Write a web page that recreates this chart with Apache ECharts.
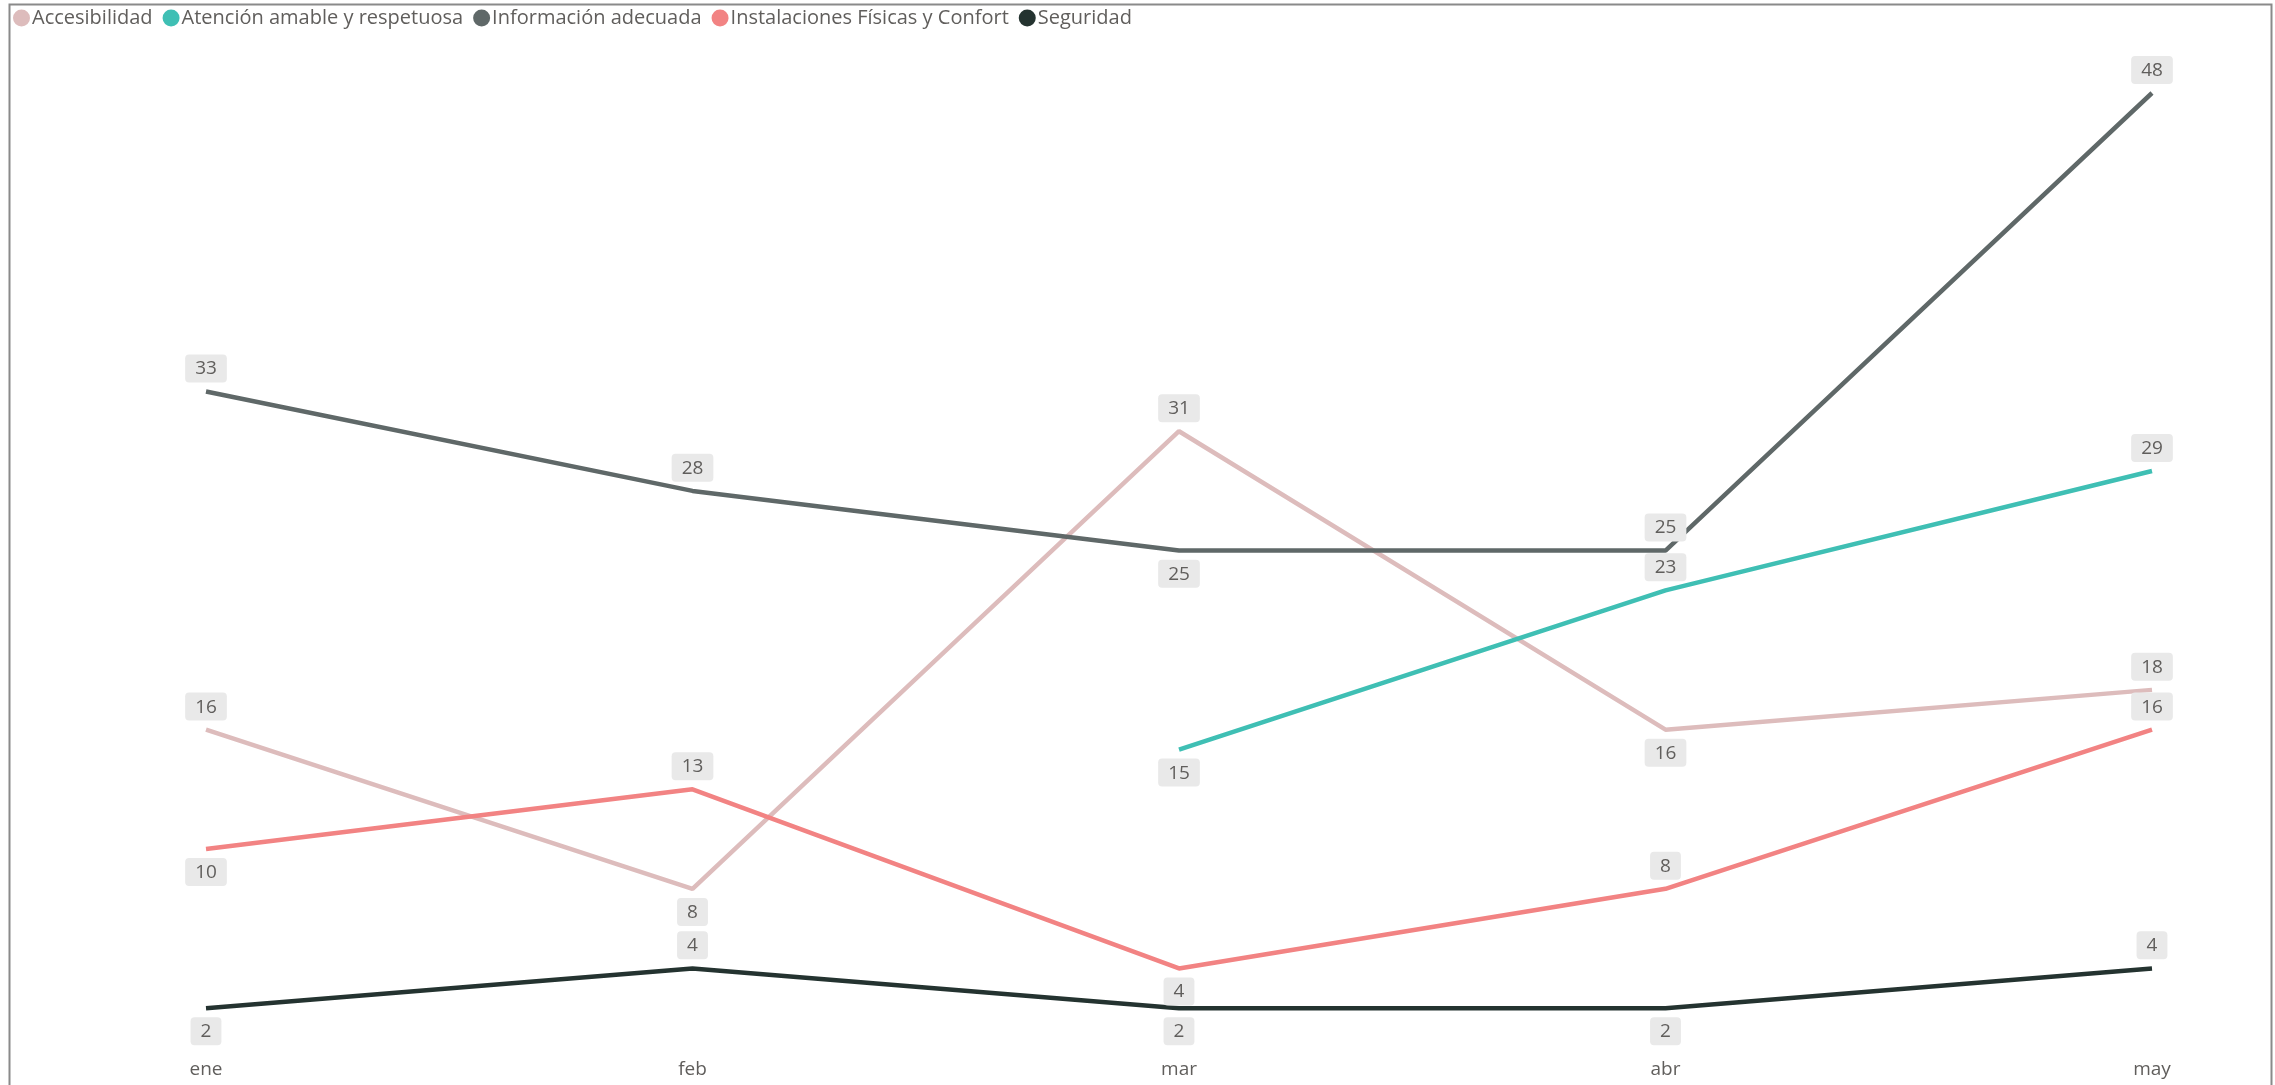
<!DOCTYPE html>
<html>
<head>
<meta charset="utf-8">
<script src="https://cdn.jsdelivr.net/npm/echarts@6/dist/echarts.min.js"></script>
<style>
  html, body { margin: 0; padding: 0; background: #fff; }
  #chart { width: 2275px; height: 1085px; }
</style>
</head>
<body>
<div id="chart"></div>
<script>
// Months on the x axis
const months = ['ene', 'feb', 'mar', 'abr', 'may'];

// Monthly counts per category
const accesibilidad = [16, 8, 31, 16, 18];
const atencion = [null, null, 15, 23, 29];
const informacion = [33, 28, 25, 25, 48];
const instalaciones = [10, 13, 4, 8, 16];
const seguridad = [2, 4, 2, 2, 4];

// Label side for each point: 'top' or 'bottom'
const posAccesibilidad = ['top', 'bottom', 'top', 'bottom', 'top'];
const posAtencion = ['top', 'top', 'bottom', 'top', 'top'];
const posInformacion = ['top', 'top', 'bottom', 'top', 'top'];
const posInstalaciones = ['bottom', 'top', 'bottom', 'top', 'top'];
const posSeguridad = ['bottom', 'top', 'bottom', 'bottom', 'top'];

const FONT = '"Open Sans", "Noto Sans", sans-serif';

function makeSeries(name, values, positions, color) {
  return {
    name: name,
    type: 'line',
    symbol: 'circle',
    showSymbol: true,
    symbolSize: 0.1,
    connectNulls: false,
    lineStyle: { width: 4.5, color: color },
    itemStyle: { color: color },
    data: values.map((v, i) => ({
      value: v,
      label: {
        show: v !== null,
        position: positions[i],
        distance: 9
      }
    })),
    label: {
      show: true,
      fontFamily: FONT,
      fontSize: 19,
      color: '#605e5c',
      backgroundColor: '#e9e9e9',
      borderRadius: 4,
      padding: [5, 10, 4, 10]
    },
    emphasis: { disabled: true }
  };
}

const chart = echarts.init(document.getElementById('chart'));
chart.setOption({
  animation: false,
  color: ['#ddbcbc', '#3fbfb4', '#5f6868', '#f28383', '#243330'],
  legend: {
    left: 8,
    top: 3,
    icon: 'circle',
    itemWidth: 17,
    itemHeight: 17,
    itemGap: 10,
    textStyle: { fontFamily: FONT, fontSize: 20, color: '#605e5c', padding: [0, 0, 0, -3] }
  },
  grid: { left: 206, right: 123, top: 93, bottom: 37, containLabel: false },
  xAxis: {
    type: 'category',
    data: months,
    boundaryGap: false,
    axisLine: { show: false },
    axisTick: { show: false },
    axisLabel: { fontFamily: FONT, fontSize: 19, color: '#605e5c', margin: 12 }
  },
  yAxis: {
    type: 'value',
    min: 0,
    max: 48,
    show: false,
    splitLine: { show: false }
  },
  graphic: [{
    type: 'rect',
    left: 7,
    top: 2,
    shape: { width: 2262, height: 1100 },
    style: { fill: 'none', stroke: '#8a8a8a', lineWidth: 2 },
    silent: true
  }],
  series: [
    makeSeries('Accesibilidad', accesibilidad, posAccesibilidad, '#ddbcbc'),
    makeSeries('Atención amable y respetuosa', atencion, posAtencion, '#3fbfb4'),
    makeSeries('Información adecuada', informacion, posInformacion, '#5f6868'),
    makeSeries('Instalaciones Físicas y Confort', instalaciones, posInstalaciones, '#f28383'),
    makeSeries('Seguridad', seguridad, posSeguridad, '#243330')
  ]
});
</script>
</body>
</html>
